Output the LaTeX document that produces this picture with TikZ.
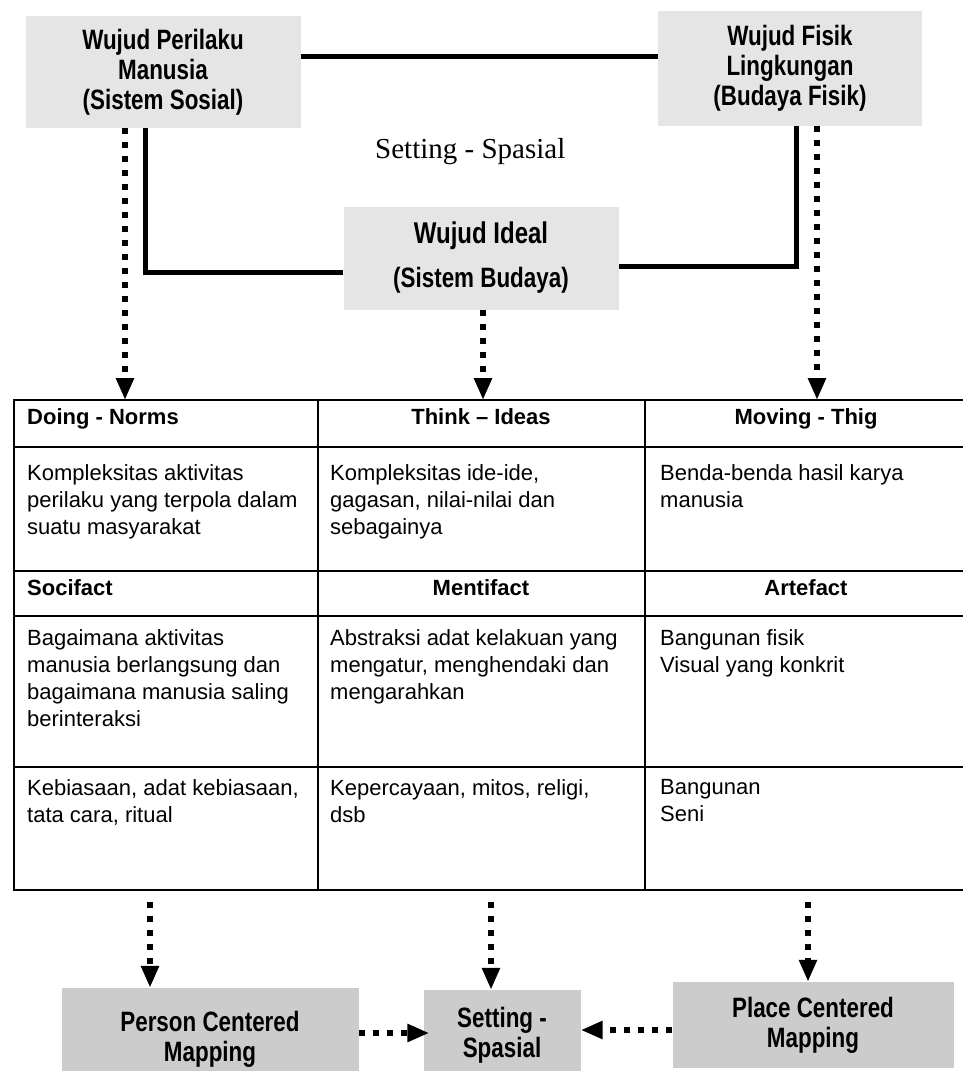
\documentclass[tikz,border=0pt]{standalone}
\usepackage{fontspec}
\setmainfont{Liberation Sans}
\newfontfamily\narrowfont[FakeStretch=0.8]{Liberation Sans}
\newfontfamily\seriffont{Liberation Serif}
\usetikzlibrary{arrows.meta}
\tikzset{
  concept/.style={fill=black!10, draw=none, align=center, inner sep=0pt,
    font=\narrowfont\bfseries\fontsize{28}{30}\selectfont},
  outcome/.style={concept, fill=black!20},
  link/.style={line width=5pt},
  flow/.style={line width=6.5pt, dash pattern=on 6pt off 8pt,
    -{Triangle[length=22pt,width=17pt]}},
  tablerule/.style={line width=1.6pt},
  cellhead/.style={font=\bfseries\fontsize{22}{27}\selectfont, inner sep=0pt},
  cell/.style={font=\fontsize{22}{27}\selectfont, align=left, anchor=north west, inner sep=0pt},
}
\begin{document}
\begin{tikzpicture}[x=1pt,y=-1pt]
\useasboundingbox (0,0) rectangle (963,1071);

% top concept boxes
\node[concept, minimum width=275pt, minimum height=112pt] (perilaku) at (163,72)
  {Wujud Perilaku\\Manusia\\(Sistem Sosial)};
\node[concept, minimum width=264pt, minimum height=115pt] (fisik) at (790,68)
  {Wujud Fisik\\Lingkungan\\(Budaya Fisik)};
\node[concept, minimum width=275pt, minimum height=103pt] (ideal) at (481,258)
  {{\fontsize{30}{30}\selectfont Wujud Ideal}\\[14pt](Sistem Budaya)};
\node[font=\seriffont\fontsize{29}{34}\selectfont, anchor=base west, inner sep=0pt]
  (settinglabel) at (375,158) {Setting - Spasial};

% helper coordinates
\coordinate (lineTop) at (0,56);
\coordinate (xL) at (145,0);
\coordinate (yL) at (0,272);
\coordinate (xR) at (796,0);
\coordinate (yR) at (0,266);

% solid links
\draw[link] (perilaku.east |- lineTop) -- (fisik.west |- lineTop);
\draw[link] (perilaku.south -| xL) |- (ideal.west |- yL);
\draw[link] (fisik.south -| xR) |- (ideal.east |- yR);

% table
\draw[tablerule] (14,400) rectangle (966,890);
\foreach \y in {447,571,616,767} \draw[tablerule] (14,\y) -- (966,\y);
\foreach \x in {318,645} \draw[tablerule] (\x,400) -- (\x,890);

\coordinate (inA) at (125,400);
\coordinate (inB) at (483,400);
\coordinate (inC) at (817,400);
\coordinate (outA) at (150,890);
\coordinate (outB) at (491,890);
\coordinate (outC) at (808,890);

% dashed arrows into the table
\draw[flow] (perilaku.south -| inA) -- (inA);
\draw[flow] (ideal.south -| inB) -- (inB);
\draw[flow] (fisik.south -| inC) -- (inC);

% table contents
\node[cellhead, anchor=base west] (h1) at (27,424) {Doing - Norms};
\node[cellhead, anchor=base] (h2) at (481,424) {Think – Ideas};
\node[cellhead, anchor=base] (h3) at (806,424) {Moving - Thig};
\node[cell] (c11) at (27,464) {Kompleksitas aktivitas\\perilaku yang terpola dalam\\suatu masyarakat};
\node[cell] (c12) at (330,464) {Kompleksitas ide-ide,\\gagasan, nilai-nilai dan\\sebagainya};
\node[cell] (c13) at (660,464) {Benda-benda hasil karya\\manusia};
\node[cellhead, anchor=base west] (h4) at (27,595) {Socifact};
\node[cellhead, anchor=base] (h5) at (481,595) {Mentifact};
\node[cellhead, anchor=base] (h6) at (806,595) {Artefact};
\node[cell] (c21) at (27,629) {Bagaimana aktivitas\\manusia berlangsung dan\\bagaimana manusia saling\\berinteraksi};
\node[cell] (c22) at (330,629) {Abstraksi adat kelakuan yang\\mengatur, menghendaki dan\\mengarahkan};
\node[cell] (c23) at (660,629) {Bangunan fisik\\Visual yang konkrit};
\node[cell] (c31) at (27,779) {Kebiasaan, adat kebiasaan,\\tata cara, ritual};
\node[cell] (c32) at (330,779) {Kepercayaan, mitos, religi,\\dsb};
\node[cell] (c33) at (660,779) {Bangunan\\Seni};

% bottom boxes
\node[outcome, minimum width=297pt, minimum height=102pt] (person) at (210,1039)
  {Person Centered\\Mapping};
\node[outcome, minimum width=157pt, minimum height=90pt] (spatial) at (502,1035)
  {Setting -\\Spasial};
\node[outcome, minimum width=281pt, minimum height=86pt] (place) at (813,1025)
  {Place Centered\\Mapping};

\draw[flow, shorten <=12pt] (outA) -- (outA |- person.north);
\draw[flow, shorten <=12pt] (outB) -- (outB |- spatial.north);
\draw[flow, shorten <=12pt] (outC) -- (outC |- place.north);

\coordinate (yP) at (0,1033);
\coordinate (yQ) at (0,1030);
\draw[flow, shorten >=-6pt] (person.east |- yP) -- (spatial.west |- yP);
\draw[flow] (place.west |- yQ) -- (spatial.east |- yQ);
\end{tikzpicture}
\end{document}
